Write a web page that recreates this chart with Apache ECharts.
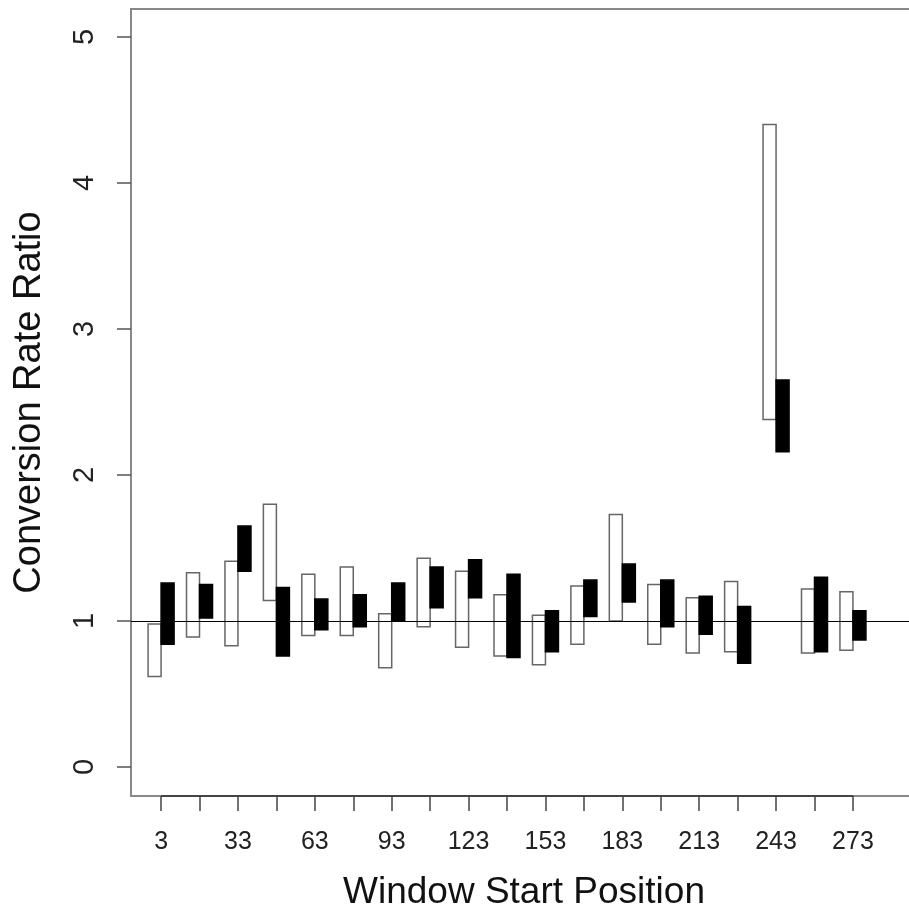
<!DOCTYPE html>
<html>
<head>
<meta charset="utf-8">
<script src="https://cdn.jsdelivr.net/npm/echarts@6/dist/echarts.min.js"></script>
<style>
html,body{margin:0;padding:0;background:#fff;}
#chart{width:909px;height:911px;}
</style>
</head>
<body>
<div id="chart"></div>
<script>
// Window start positions
const positions = [3,18,33,48,63,78,93,108,123,138,153,168,183,198,213,228,243,258,273];
// White (open) bars: lower / upper
const whiteLow  = [0.62,0.89,0.83,1.14,0.90,0.90,0.68,0.96,0.82,0.76,0.70,0.84,1.00,0.84,0.78,0.79,2.38,0.78,0.80];
const whiteHigh = [0.98,1.33,1.41,1.80,1.32,1.37,1.05,1.43,1.34,1.18,1.04,1.24,1.73,1.25,1.16,1.27,4.40,1.22,1.20];
// Black (filled) bars: lower / upper
const blackLow  = [0.84,1.02,1.34,0.76,0.94,0.96,1.00,1.09,1.16,0.75,0.79,1.03,1.13,0.96,0.91,0.71,2.16,0.79,0.87];
const blackHigh = [1.26,1.25,1.65,1.23,1.15,1.18,1.26,1.37,1.42,1.32,1.07,1.28,1.39,1.28,1.17,1.10,2.65,1.30,1.07];
// Tick values
const xTickValues  = positions;
const xLabelValues = [3,33,63,93,123,153,183,213,243,273];
const yTickValues  = [0,1,2,3,4,5];
const refValue = 1;

const FONT = 'Liberation Sans';
const BAR_W = 13;
const Y_MIN = -0.1986, Y_MAX = 5.1918;

const whiteData = positions.map((p,i)=>[p, whiteLow[i], whiteHigh[i]]);
const blackData = positions.map((p,i)=>[p, blackLow[i], blackHigh[i]]);

function makeRender(side, fill, stroke) {
  return function(params, api) {
    const x = api.value(0);
    const lo = api.coord([x, api.value(1)]);
    const hi = api.coord([x, api.value(2)]);
    const left = side < 0 ? lo[0] - BAR_W : lo[0];
    return {
      type: 'rect',
      shape: { x: left, y: hi[1], width: BAR_W, height: lo[1] - hi[1] },
      style: { fill: fill, stroke: stroke, lineWidth: 1.5 }
    };
  };
}

const chart = echarts.init(document.getElementById('chart'), null, {renderer:'canvas'});
chart.setOption({
  animation: false,
  backgroundColor: '#fff',
  grid: { left: 131, top: 9, right: -8, bottom: 115, outerBoundsMode: 'none', containLabel: false,
          show: true, borderColor: '#888', borderWidth: 2, backgroundColor: 'transparent' },
  xAxis: {
    type: 'value',
    min: -8.74, max: 298,
    name: 'Window Start Position',
    nameLocation: 'middle',
    nameGap: 78,
    nameTextStyle: { fontFamily: FONT, fontSize: 37, color: '#111' },
    axisLine: { show: false, onZero: false },
    splitLine: { show: false },
    axisTick: { show: true, inside: false, length: 15, customValues: xTickValues, lineStyle: { color: '#444', width: 1.5 } },
    axisLabel: { customValues: xLabelValues, fontFamily: FONT, fontSize: 25, color: '#222', margin: 34 }
  },
  yAxis: {
    type: 'value',
    min: Y_MIN, max: Y_MAX,
    name: 'Conversion Rate Ratio',
    nameLocation: 'middle',
    nameRotate: 90,
    nameGap: 82,
    nameTextStyle: { fontFamily: FONT, fontSize: 38, color: '#111' },
    axisLine: { show: false, onZero: false },
    splitLine: { show: false },
    axisTick: { show: true, inside: false, length: 14, customValues: yTickValues, lineStyle: { color: '#555', width: 1.5 } },
    axisLabel: { customValues: yTickValues, rotate: 90, fontFamily: FONT, fontSize: 29, color: '#222', margin: 32 }
  },
  series: [
    { type: 'custom', name: 'open', data: whiteData, renderItem: makeRender(-1, '#fff', '#666'), z: 2 },
    { type: 'custom', name: 'filled', data: blackData, renderItem: makeRender(1, '#000', '#000'), z: 3,
      markLine: { silent: true, symbol: ['none','none'], label: { show: false },
        lineStyle: { color: '#000', width: 1.2, type: 'solid' },
        data: [ { yAxis: refValue } ], z: 10 } }
  ]
});

// dark axis segment from first to last tick
const p0 = chart.convertToPixel({xAxisIndex:0, yAxisIndex:0}, [positions[0], Y_MIN]);
const p1 = chart.convertToPixel({xAxisIndex:0, yAxisIndex:0}, [positions[positions.length-1], Y_MIN]);
chart.setOption({ graphic: [{ type: 'line', shape: { x1: p0[0], y1: p0[1], x2: p1[0], y2: p1[1] }, style: { stroke: '#444', lineWidth: 2 }, z: 20 }] });
</script>
</body>
</html>
